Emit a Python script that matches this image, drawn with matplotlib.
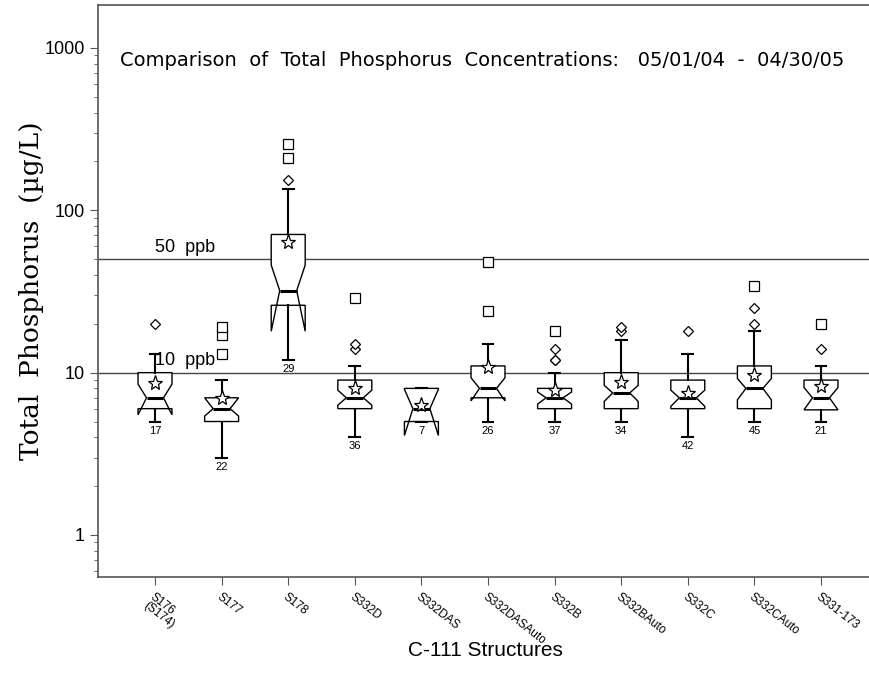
import numpy as np
import matplotlib.pyplot as plt
from matplotlib.ticker import FormatStrFormatter, NullFormatter, LogLocator

# C-111 structures, total phosphorus (ug/L), 05/01/04 - 04/30/05
sites = ['S176\n(S174)', 'S177', 'S178', 'S332D', 'S332DAS', 'S332DASAuto',
         'S332B', 'S332BAuto', 'S332C', 'S332CAuto', 'S331-173']
q1 = [6, 5, 26, 6, 5, 7, 6, 6, 6, 6, 5.9]
med = [7, 6, 32, 7, 6, 8, 7, 7.5, 7, 8, 7]
q3 = [10, 7, 71, 9, 8, 11, 8, 10, 9, 11, 9]
whislo = [5, 3, 12, 4, 5, 5, 5, 5, 4, 5, 5]
whishi = [13, 9, 136, 11, 8, 15, 10, 16, 13, 18, 11]
cilo = [5.5, 5.4, 18, 6.3, 4.1, 6.7, 6.4, 6.65, 6.2, 6.8, 5.9]
cihi = [8.5, 7.0, 46, 7.8, 7.9, 9.3, 7.6, 8.35, 7.8, 9.2, 8.1]
means = [8.6, 7.0, 63.7, 8.1, 6.3, 10.9, 7.8, 8.8, 7.5, 9.7, 8.3]
counts = [17, 22, 29, 36, 7, 26, 37, 34, 42, 45, 21]
# mild outliers (diamonds) and extreme outliers (squares)
mild = [[20], [], [154], [14, 15], [], [], [12, 12, 14], [18, 19], [18], [20, 25], [14]]
extreme = [[], [13, 17, 19], [210, 256], [29], [], [24, 48], [18], [], [], [34], [20]]
limits = [50, 10]

plt.rcParams['font.family'] = ['Liberation Sans', 'DejaVu Sans']

fig = plt.figure(figsize=(8.69, 6.93), dpi=100)
ax = fig.add_axes([98 / 869, 1 - 577 / 693, (878 - 98) / 869, (577 - 5) / 693])

stats = []
for i in range(len(sites)):
    stats.append(dict(med=med[i], q1=q1[i], q3=q3[i], whislo=whislo[i],
                      whishi=whishi[i], cilo=cilo[i], cihi=cihi[i],
                      mean=means[i], fliers=[]))

pos = np.arange(1, len(sites) + 1)
ax.bxp(stats, positions=pos, widths=0.51, capwidths=0.16, shownotches=True,
       showmeans=True, showfliers=False, patch_artist=True,
       boxprops=dict(facecolor='white', edgecolor='black', linewidth=1.0),
       whiskerprops=dict(color='black', linewidth=1.5),
       capprops=dict(color='black', linewidth=1.5),
       medianprops=dict(color='black', linewidth=2.2),
       meanprops=dict(marker='*', markerfacecolor='white', markeredgecolor='black',
                      markersize=11, markeredgewidth=0.9))

for i in range(len(sites)):
    if mild[i]:
        ax.plot([pos[i]] * len(mild[i]), mild[i], linestyle='none', marker='D',
                markersize=5, markerfacecolor='white', markeredgecolor='black',
                markeredgewidth=0.9)
    if extreme[i]:
        ax.plot([pos[i]] * len(extreme[i]), extreme[i], linestyle='none', marker='s',
                markersize=7.5, markerfacecolor='white', markeredgecolor='black',
                markeredgewidth=0.9)
    ax.annotate(str(counts[i]), (pos[i], whislo[i]), xytext=(0, -3),
                textcoords='offset points', ha='center', va='top', fontsize=8)

for lim in limits:
    ax.axhline(lim, color='#444444', linewidth=1.0, zorder=0)
    ax.text(1.0, lim * 1.05, f'{lim}  ppb', ha='left', va='bottom', fontsize=13)

ax.set_yscale('log')
ax.set_ylim(0.551, 1840)
ax.set_xlim(0.144, 11.856)
ax.yaxis.set_major_locator(LogLocator(base=10))
ax.yaxis.set_major_formatter(FormatStrFormatter('%g'))
ax.yaxis.set_minor_formatter(NullFormatter())
ax.tick_params(axis='y', which='major', labelsize=13, length=6, color='#555555')
ax.tick_params(axis='y', which='minor', length=3, color='#555555')
ax.set_xticks(pos)
ax.set_xticklabels(sites, rotation=-38, ha='left', va='top',
                   rotation_mode='anchor', fontsize=8.5, linespacing=0.9)
ax.tick_params(axis='x', length=6, color='#555555', pad=4)

for s in ax.spines.values():
    s.set_color('#555555')
    s.set_linewidth(1.2)

fig.text(120 / 869, 1 - 60 / 693,
         'Comparison  of  Total  Phosphorus  Concentrations:   05/01/04  -  04/30/05',
         ha='left', va='center', fontsize=14, family='DejaVu Sans')
ax.set_ylabel('Total  Phosphorus  (\u00b5g/L)', family='DejaVu Serif',
              fontsize=19)
ax.yaxis.set_label_coords(-0.069, 0.5)
fig.text(485 / 869, 1 - 650 / 693, 'C-111 Structures', ha='center', va='center',
         fontsize=15)

fig.savefig('out.png', dpi=100)
